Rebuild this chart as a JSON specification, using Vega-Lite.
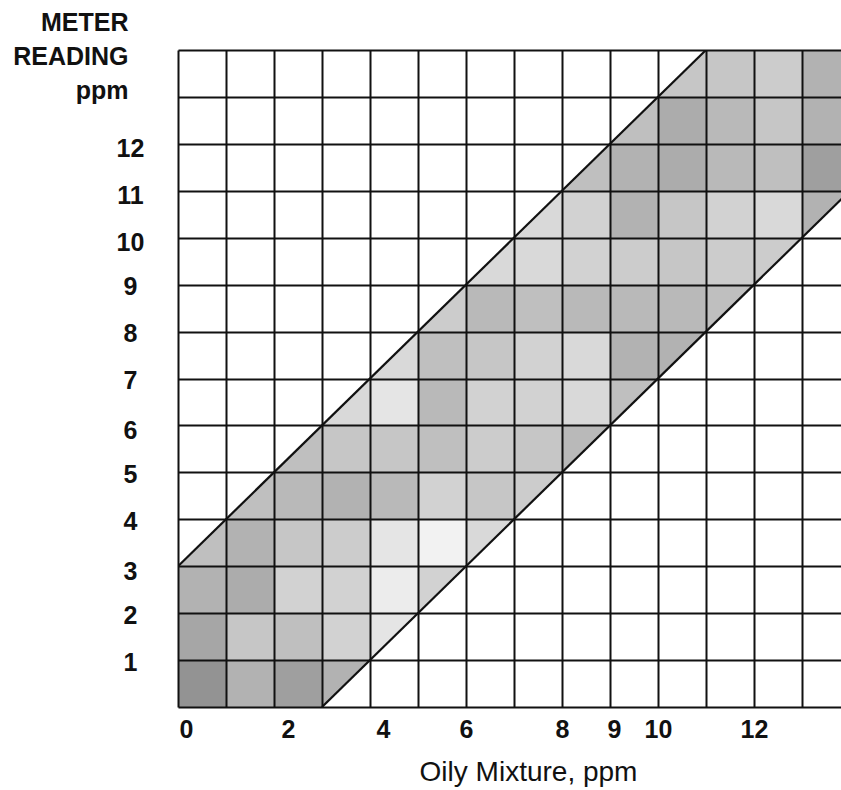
{
  "$schema": "https://vega.github.io/schema/vega-lite/v6.json",
  "width": 663,
  "height": 657,
  "autosize": "none",
  "padding": {"left": 178, "top": 50, "right": 0, "bottom": 83},
  "background": "white",
  "config": {"view": {"stroke": null}, "font": "Liberation Sans"},
  "datasets": {
    "cells": [
      {"x":0,"y":0,"d":0.85},{"x":1,"y":0,"d":0.6},{"x":2,"y":0,"d":0.75},{"x":3,"y":0,"d":0.6},
      {"x":0,"y":1,"d":0.7},{"x":1,"y":1,"d":0.45},{"x":2,"y":1,"d":0.5},{"x":3,"y":1,"d":0.35},{"x":4,"y":1,"d":0.2},
      {"x":0,"y":2,"d":0.6},{"x":1,"y":2,"d":0.65},{"x":2,"y":2,"d":0.35},{"x":3,"y":2,"d":0.35},{"x":4,"y":2,"d":0.15},{"x":5,"y":2,"d":0.35},
      {"x":0,"y":3,"d":0.5},{"x":1,"y":3,"d":0.6},{"x":2,"y":3,"d":0.45},{"x":3,"y":3,"d":0.4},{"x":4,"y":3,"d":0.2},{"x":5,"y":3,"d":0.1},{"x":6,"y":3,"d":0.3},
      {"x":1,"y":4,"d":0.5},{"x":2,"y":4,"d":0.55},{"x":3,"y":4,"d":0.6},{"x":4,"y":4,"d":0.55},{"x":5,"y":4,"d":0.35},{"x":6,"y":4,"d":0.45},{"x":7,"y":4,"d":0.4},
      {"x":2,"y":5,"d":0.5},{"x":3,"y":5,"d":0.45},{"x":4,"y":5,"d":0.45},{"x":5,"y":5,"d":0.5},{"x":6,"y":5,"d":0.4},{"x":7,"y":5,"d":0.45},{"x":8,"y":5,"d":0.55},
      {"x":3,"y":6,"d":0.3},{"x":4,"y":6,"d":0.2},{"x":5,"y":6,"d":0.55},{"x":6,"y":6,"d":0.35},{"x":7,"y":6,"d":0.35},{"x":8,"y":6,"d":0.3},{"x":9,"y":6,"d":0.5},
      {"x":4,"y":7,"d":0.3},{"x":5,"y":7,"d":0.5},{"x":6,"y":7,"d":0.45},{"x":7,"y":7,"d":0.35},{"x":8,"y":7,"d":0.3},{"x":9,"y":7,"d":0.6},{"x":10,"y":7,"d":0.6},
      {"x":5,"y":8,"d":0.4},{"x":6,"y":8,"d":0.55},{"x":7,"y":8,"d":0.5},{"x":8,"y":8,"d":0.55},{"x":9,"y":8,"d":0.55},{"x":10,"y":8,"d":0.55},{"x":11,"y":8,"d":0.5},
      {"x":6,"y":9,"d":0.3},{"x":7,"y":9,"d":0.3},{"x":8,"y":9,"d":0.35},{"x":9,"y":9,"d":0.4},{"x":10,"y":9,"d":0.45},{"x":11,"y":9,"d":0.4},{"x":12,"y":9,"d":0.4},
      {"x":7,"y":10,"d":0.3},{"x":8,"y":10,"d":0.35},{"x":9,"y":10,"d":0.6},{"x":10,"y":10,"d":0.45},{"x":11,"y":10,"d":0.35},{"x":12,"y":10,"d":0.3},{"x":13,"y":10,"d":0.6},
      {"x":8,"y":11,"d":0.5},{"x":9,"y":11,"d":0.6},{"x":10,"y":11,"d":0.65},{"x":11,"y":11,"d":0.55},{"x":12,"y":11,"d":0.5},{"x":13,"y":11,"d":0.75},
      {"x":9,"y":12,"d":0.5},{"x":10,"y":12,"d":0.65},{"x":11,"y":12,"d":0.55},{"x":12,"y":12,"d":0.45},{"x":13,"y":12,"d":0.6},
      {"x":10,"y":13,"d":0.45},{"x":11,"y":13,"d":0.45},{"x":12,"y":13,"d":0.4},{"x":13,"y":13,"d":0.6}
    ],
    "upperMask": [{"x":0,"lo":3,"hi":14},{"x":11,"lo":14,"hi":14}],
    "lowerMask": [{"x":3,"lo":0,"hi":0},{"x":14,"lo":0,"hi":11}],
    "lines": [
      {"x":0,"y":3,"line":"upper"},{"x":11,"y":14,"line":"upper"},
      {"x":3,"y":0,"line":"lower"},{"x":14,"y":11,"line":"lower"}
    ]
  },
  "encoding": {
    "x": {
      "field": "x", "type": "quantitative",
      "scale": {"domain": [0, 13.8125], "nice": false},
      "axis": {
        "zindex": 1,
        "values": [0,1,2,3,4,5,6,7,8,9,10,11,12,13],
        "labelExpr": "indexof([0,2,4,6,8,9,10,12], datum.value) >= 0 ? datum.label : ''",
        "labelFontSize": 25, "labelFontWeight": "bold", "labelColor": "#111",
        "labelPadding": 10, "labelBaseline": "top",
        "labelOffset": {"condition": [
          {"test": "datum.value == 0", "value": 8},
          {"test": "datum.value == 2", "value": 14},
          {"test": "datum.value == 4", "value": 13},
          {"test": "datum.value == 9", "value": 4}
        ], "value": 0},
        "labelFlush": false, "labelOverlap": false, "labelBound": false,
        "ticks": false, "tickSize": 0, "domain": false,
        "grid": true, "gridColor": "#111", "gridWidth": 2, "gridOpacity": 1,
        "title": "Oily Mixture, ppm", "titleFontSize": 28, "titleFontWeight": "normal", "titleColor": "#111",
        "titleX": 350, "titleY": 73, "titleAlign": "center", "titleBaseline": "alphabetic"
      }
    },
    "y": {
      "field": "y", "type": "quantitative",
      "scale": {"domain": [0, 14], "nice": false},
      "axis": {
        "zindex": 1,
        "values": [0,1,2,3,4,5,6,7,8,9,10,11,12,13,14],
        "labelExpr": "datum.value >= 1 && datum.value <= 12 ? datum.label : ''",
        "labelFontSize": 25, "labelFontWeight": "bold", "labelColor": "#111",
        "labelAlign": "center", "labelBaseline": "middle", "labelPadding": 48,
        "labelOffset": {"condition": {"test": "indexof([3,6,10,11,12], datum.value) >= 0", "value": 5}, "value": 2},
        "labelFlush": false, "labelOverlap": false, "labelBound": false,
        "ticks": false, "tickSize": 0, "domain": false,
        "grid": true, "gridColor": "#111", "gridWidth": 2, "gridOpacity": 1,
        "title": ["METER", "READING", "ppm"], "titleFontSize": 25, "titleFontWeight": "bold", "titleColor": "#111",
        "titleAngle": 0, "titleAlign": "right", "titleBaseline": "alphabetic",
        "titleX": -50, "titleY": -20, "titleLineHeight": 34
      }
    }
  },
  "layer": [
    {
      "data": {"name": "cells"},
      "mark": {"type": "rect", "color": "#000", "clip": true},
      "encoding": {
        "x": {"field": "x", "type": "quantitative", "bin": {"binned": true, "step": 1}},
        "y": {"field": "y", "type": "quantitative", "bin": {"binned": true, "step": 1}},
        "opacity": {"field": "d", "type": "quantitative", "scale": {"domain": [0, 1], "range": [0, 0.5]}, "legend": null}
      }
    },
    {
      "data": {"name": "upperMask"},
      "mark": {"type": "area", "color": "white", "opacity": 1, "clip": true},
      "encoding": {
        "y": {"field": "lo", "type": "quantitative"},
        "y2": {"field": "hi"}
      }
    },
    {
      "data": {"name": "lowerMask"},
      "mark": {"type": "area", "color": "white", "opacity": 1, "clip": true},
      "encoding": {
        "y": {"field": "lo", "type": "quantitative"},
        "y2": {"field": "hi"}
      }
    },
    {
      "data": {"name": "lines"},
      "mark": {"type": "line", "color": "#111", "strokeWidth": 2.2, "clip": true},
      "encoding": {
        "detail": {"field": "line"}
      }
    }
  ]
}
